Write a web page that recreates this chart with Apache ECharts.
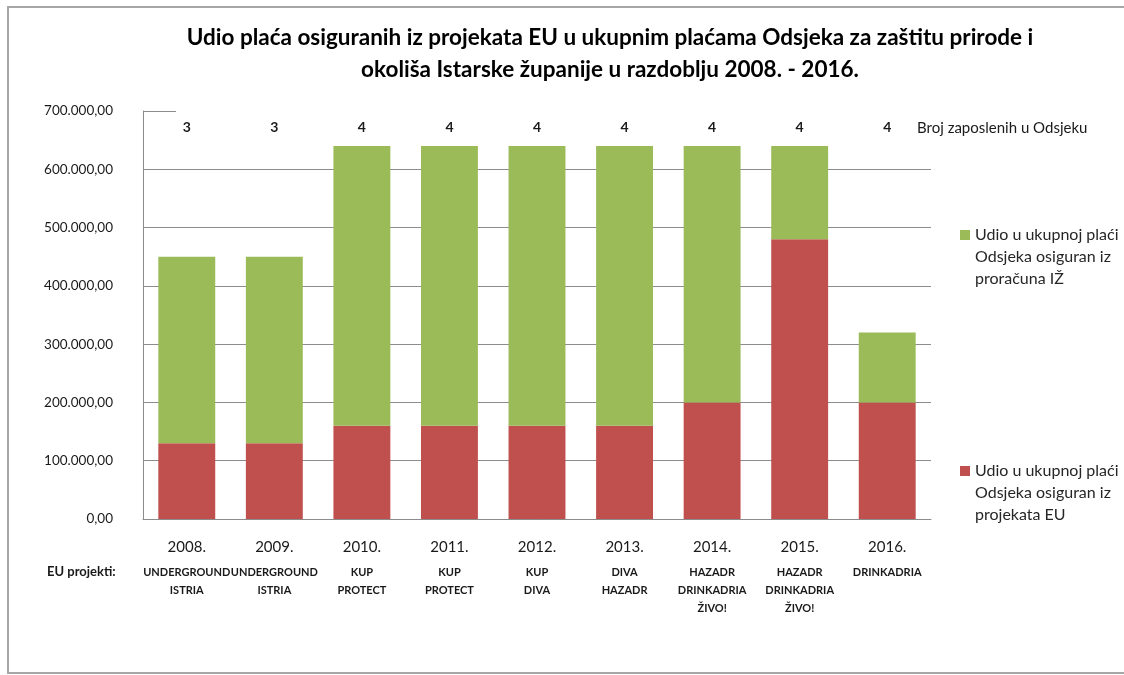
<!DOCTYPE html>
<html>
<head>
<meta charset="utf-8">
<script src="https://cdn.jsdelivr.net/npm/echarts@6/dist/echarts.min.js"></script>
<style>
  html, body { margin: 0; padding: 0; background: #fff; }
  #chart { width: 1124px; height: 675px; }
</style>
</head>
<body>
<div id="chart"></div>
<script>
// data
const years = ['2008.', '2009.', '2010.', '2011.', '2012.', '2013.', '2014.', '2015.', '2016.'];
const projects = [
  ['UNDERGROUND', 'ISTRIA'],
  ['UNDERGROUND', 'ISTRIA'],
  ['KUP', 'PROTECT'],
  ['KUP', 'PROTECT'],
  ['KUP', 'DIVA'],
  ['DIVA', 'HAZADR'],
  ['HAZADR', 'DRINKADRIA', 'ŽIVO!'],
  ['HAZADR', 'DRINKADRIA', 'ŽIVO!'],
  ['DRINKADRIA'],
];
const employees = [3, 3, 4, 4, 4, 4, 4, 4, 4];
const euShare = [130000, 130000, 160000, 160000, 160000, 160000, 200000, 480000, 200000];
const budgetShare = [320000, 320000, 480000, 480000, 480000, 480000, 440000, 160000, 120000];

const yTicks = [0, 100000, 200000, 300000, 400000, 500000, 600000, 700000];

const nameEU = 'Udio u ukupnoj plaći\nOdsjeka osiguran iz\nprojekata EU';
const nameIZ = 'Udio u ukupnoj plaći\nOdsjeka osiguran iz\nproračuna IŽ';

const FONT = 'Lato, "Open Sans", sans-serif';
const GREEN = '#9bbb59';
const RED = '#c0504d';
const GRID = '#8c8c8c';

// 700.000,00 style numbers
const fmt = (v) => {
  const int = String(Math.round(v)).replace(/\B(?=(\d{3})+(?!\d))/g, '.');
  return int + ',00';
};

const chart = echarts.init(document.getElementById('chart'));

// two empty lines in front keep the first text line level with the square
const legendBase = {
  left: 955,
  orient: 'vertical',
  icon: 'rect',
  itemWidth: 10,
  itemHeight: 10,
  selectedMode: false,
  formatter: (name) => '\n\n' + name,
  textStyle: {
    fontFamily: FONT,
    fontSize: 16,
    color: '#262626',
    lineHeight: 22,
  },
};

chart.setOption({
  backgroundColor: '#fff',
  animation: false,
  title: {
    text: 'Udio plaća osiguranih iz projekata EU u ukupnim plaćama Odsjeka za zaštitu prirode i\nokoliša Istarske županije u razdoblju 2008. - 2016.',
    left: 605,
    textAlign: 'center',
    top: 17,
    textStyle: {
      fontFamily: FONT,
      fontSize: 22.5,
      fontWeight: 'bold',
      color: '#000',
      lineHeight: 32,
    },
  },
  legend: [
    Object.assign({}, legendBase, { data: [nameIZ], top: 175 }),
    Object.assign({}, legendBase, { data: [nameEU], top: 411 }),
  ],
  grid: { left: 143, right: 193, top: 111, bottom: 156 },
  xAxis: [
    {
      type: 'category',
      data: years,
      axisLine: { lineStyle: { color: GRID, width: 1 } },
      axisTick: { show: false },
      axisLabel: {
        margin: 12,
        interval: 0,
        formatter: (val, idx) => {
          const lines = ['{y|' + val + '}'];
          projects[idx].forEach((p) => lines.push('{p|' + p + '}'));
          return lines.join('\n');
        },
        rich: {
          y: { fontFamily: FONT, fontSize: 15, color: '#1a1a1a', lineHeight: 32 },
          p: { fontFamily: FONT, fontSize: 11, fontWeight: 'bold', color: '#1a1a1a', lineHeight: 18 },
        },
      },
    },
    {
      // employee count row across the top of the plot
      type: 'category',
      position: 'top',
      data: employees.map(String),
      axisLine: { show: false },
      axisTick: { show: false },
      axisLabel: {
        inside: true,
        margin: 9,
        interval: 0,
        fontFamily: FONT,
        fontSize: 14,
        fontWeight: 'bold',
        color: '#1a1a1a',
      },
    },
  ],
  yAxis: {
    type: 'value',
    min: yTicks[0],
    max: yTicks[yTicks.length - 1],
    interval: yTicks[1] - yTicks[0],
    axisLine: { show: true, lineStyle: { color: GRID, width: 1 } },
    axisTick: { show: false },
    splitLine: { lineStyle: { color: GRID, width: 1 } },
    axisLabel: {
      margin: 30,
      fontFamily: FONT,
      fontSize: 13.5,
      color: '#1a1a1a',
      formatter: fmt,
    },
  },
  series: [
    {
      name: nameEU,
      type: 'bar',
      stack: 'total',
      data: euShare,
      barCategoryGap: '35%',
      itemStyle: { color: RED },
    },
    {
      name: nameIZ,
      type: 'bar',
      stack: 'total',
      data: budgetShare,
      itemStyle: { color: GREEN },
    },
  ],
  graphic: [
    {
      // outer frame of the picture
      type: 'rect',
      shape: { x: 8, y: 7, width: 1130, height: 666 },
      style: { fill: null, stroke: '#a6a6a6', lineWidth: 2 },
      silent: true,
    },
    {
      // the top gridline is hidden behind the counts box, only a stub shows
      type: 'rect',
      z: 10,
      shape: { x: 176, y: 104, width: 760, height: 13 },
      style: { fill: '#fff' },
      silent: true,
    },
    {
      type: 'text',
      left: 917,
      top: 121,
      style: { text: 'Broj zaposlenih u Odsjeku', fontFamily: FONT, fontSize: 15, fill: '#1a1a1a' },
    },
    {
      type: 'text',
      left: 47,
      top: 565,
      style: { text: 'EU projekti:', fontFamily: FONT, fontSize: 13, fontWeight: 'bold', fill: '#1a1a1a' },
    },
  ],
});
</script>
</body>
</html>
